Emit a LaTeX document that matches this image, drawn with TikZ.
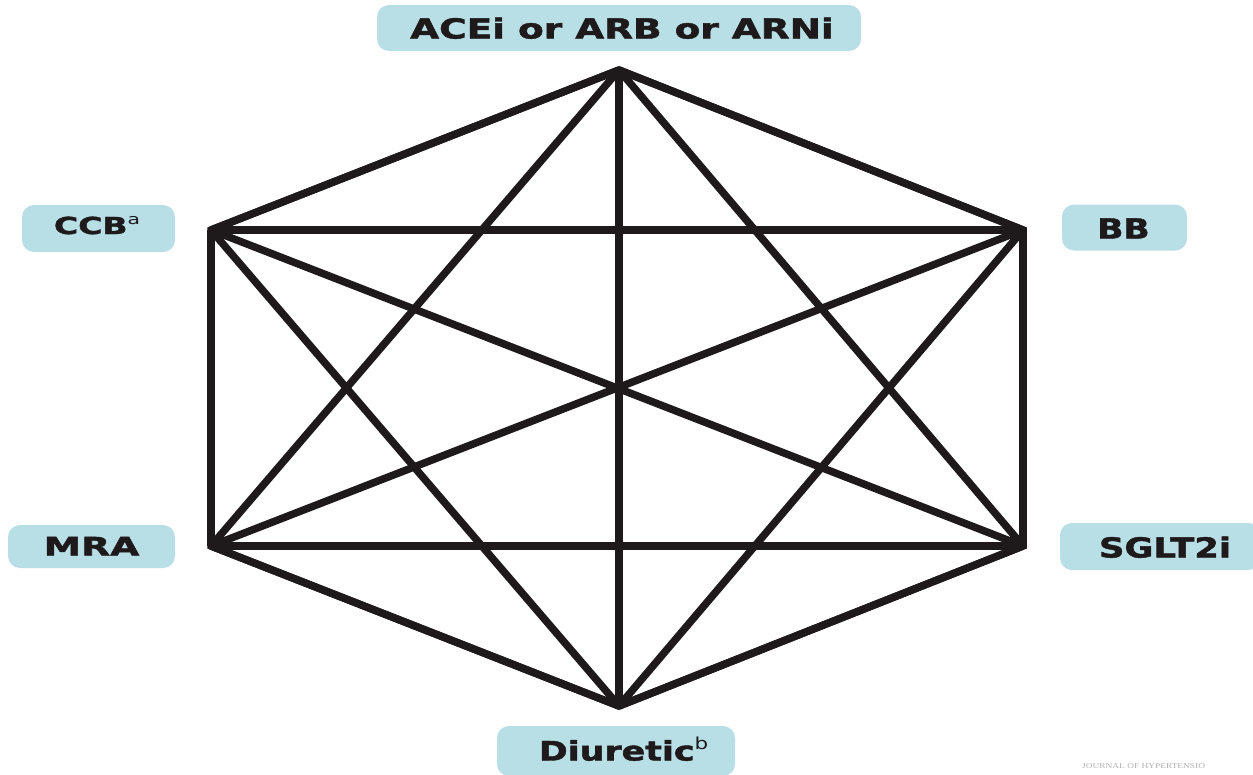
\documentclass[tikz,border=0pt]{standalone}
\usepackage{fontspec}
\setmainfont{DejaVu Sans}
\newfontfamily\heavyfont{DejaVu Sans Bold}[FakeBold=1.6]
\newfontfamily\wmfont{Liberation Serif}
\definecolor{boxblue}{HTML}{B8DEE6}
\definecolor{linecol}{HTML}{1E1A1B}
\newcommand{\lbl}[3]{\scalebox{#1}[#2]{#3}}
\newcommand{\supr}[1]{\raisebox{0.42em}{\fontsize{16}{16}\selectfont\normalfont #1}}
\begin{document}
\begin{tikzpicture}[x=1pt,y=-1pt,
  labelbox/.style={fill=boxblue, rounded corners=12pt, inner sep=0pt, anchor=center},
  labeltext/.style={font=\fontsize{26}{26}\selectfont\heavyfont, text=linecol, inner sep=0pt, anchor=base},
  edge/.style={draw=linecol, line width=7.5pt, line join=miter, line cap=butt}]
\useasboundingbox (0,0) rectangle (1253,774);
\fill[white] (0,0) rectangle (1253,774);
% vertices
\coordinate (T) at (619,70);
\coordinate (UL) at (211,230);
\coordinate (UR) at (1023,230);
\coordinate (LL) at (211,546);
\coordinate (LR) at (1023,546);
\coordinate (B) at (619,706);
% edges (complete graph)
\foreach \a/\b in {T/UL,T/UR,T/LL,T/LR,T/B,UL/UR,UL/LL,UL/LR,UL/B,UR/LL,UR/LR,UR/B,LL/LR,LL/B,LR/B}
  \draw[edge] (\a) -- (\b);
% outer hexagon with mitered joins
\draw[edge] (T) -- (UR) -- (LR) -- (B) -- (LL) -- (UL) -- cycle;
% label boxes
\node[labelbox, minimum width=484pt, minimum height=46pt] (ace) at (619,28) {};
\node[labelbox, minimum width=153pt, minimum height=47pt] (ccb) at (98.5,228.5) {};
\node[labelbox, minimum width=125pt, minimum height=46pt] (bb) at (1124.5,227.5) {};
\node[labelbox, minimum width=167pt, minimum height=43pt] (mra) at (91.5,546.5) {};
\node[labelbox, minimum width=200pt, minimum height=47pt] (sglt) at (1160,546.5) {};
\node[labelbox, minimum width=238pt, minimum height=50pt] (diu) at (616,751) {};
% label texts
\node[labeltext] (acet) at (622,38.5) {\lbl{1.44}{1.06}{ACEi or ARB or ARNi}};
\node[labeltext] (ccbt) at (97,234) {\lbl{1.27}{0.9}{CCB\supr{a}}};
\node[labeltext] (bbt) at (1123.5,238.5) {\lbl{1.32}{1.06}{BB}};
\node[labeltext] (mrat) at (91.5,555.5) {\lbl{1.45}{0.98}{MRA}};
\node[labeltext] (sgltt) at (1165,557.5) {\lbl{1.36}{1.06}{SGLT2i}};
\node[labeltext] (diut) at (623.5,760.5) {\lbl{1.34}{1.03}{Diuretic\supr{b}}};
\node[font=\wmfont\fontsize{7.5}{7.5}\selectfont, text=gray!60, anchor=west, inner sep=0pt] (wm) at (1082,766) {\scalebox{1.25}[1]{JOURNAL OF HYPERTENSIO}};
\end{tikzpicture}
\end{document}
